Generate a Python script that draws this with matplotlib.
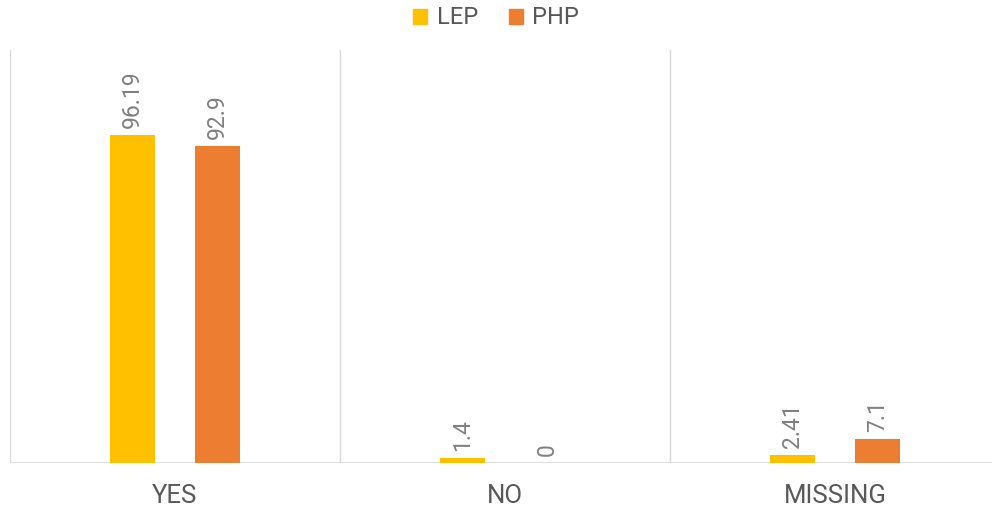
import numpy as np
import matplotlib
matplotlib.use("Agg")
import matplotlib.pyplot as plt
from matplotlib.patches import Patch

plt.rcParams["font.family"] = ["Roboto", "DejaVu Sans"]

categories = ["YES", "NO", "MISSING"]
lep = [96.19, 1.4, 2.41]
php = [92.9, 0, 7.1]
lep_labels = ["96.19", "1.4", "2.41"]
php_labels = ["92.9", "0", "7.1"]

C_LEP = "#ffc000"
C_PHP = "#ed7d31"
GRID = "#d9d9d9"
TXT = "#595959"

fig = plt.figure(figsize=(9.92, 5.08), dpi=100)
ax = fig.add_axes([10 / 992, 45 / 508, 990 / 992, 413 / 508])

x = np.arange(len(categories))
w, off = 0.136, 0.129
b1 = ax.bar(x - off, lep, w, color=C_LEP)
b2 = ax.bar(x + off, php, w, color=C_PHP)

for bars, labs in ((b1, lep_labels), (b2, php_labels)):
    for r, t in zip(bars, labs):
        ax.annotate(t, (r.get_x() + r.get_width() / 2, r.get_height()),
                    xytext=(0, 5), textcoords="offset points",
                    rotation=90, ha="center", va="bottom", fontsize=16.5, color="#808080")

ax.set_xlim(-0.5, 2.5)
ax.set_ylim(0, 121)
for b in (-0.5, 0.5, 1.5, 2.5):
    ax.axvline(b, color=GRID, lw=1, zorder=0)
for s in ax.spines.values():
    s.set_visible(False)
ax.axhline(0, color=GRID, lw=1.2, zorder=0)
ax.set_yticks([])
ax.set_xticks(x)
ax.set_xticklabels(categories, fontsize=18.5, color=TXT)
ax.tick_params(axis="x", length=0, pad=15)

handles = [Patch(color=C_LEP, label="LEP"), Patch(color=C_PHP, label="PHP")]
fig.legend(handles=handles, loc="center", bbox_to_anchor=(0.5, 1 - 18 / 508), ncol=2,
           frameon=False, fontsize=17, handlelength=0.6, handleheight=0.6,
           handletextpad=0.4, columnspacing=1.3, labelcolor=TXT)

fig.savefig("out.png", dpi=100, facecolor="white")
